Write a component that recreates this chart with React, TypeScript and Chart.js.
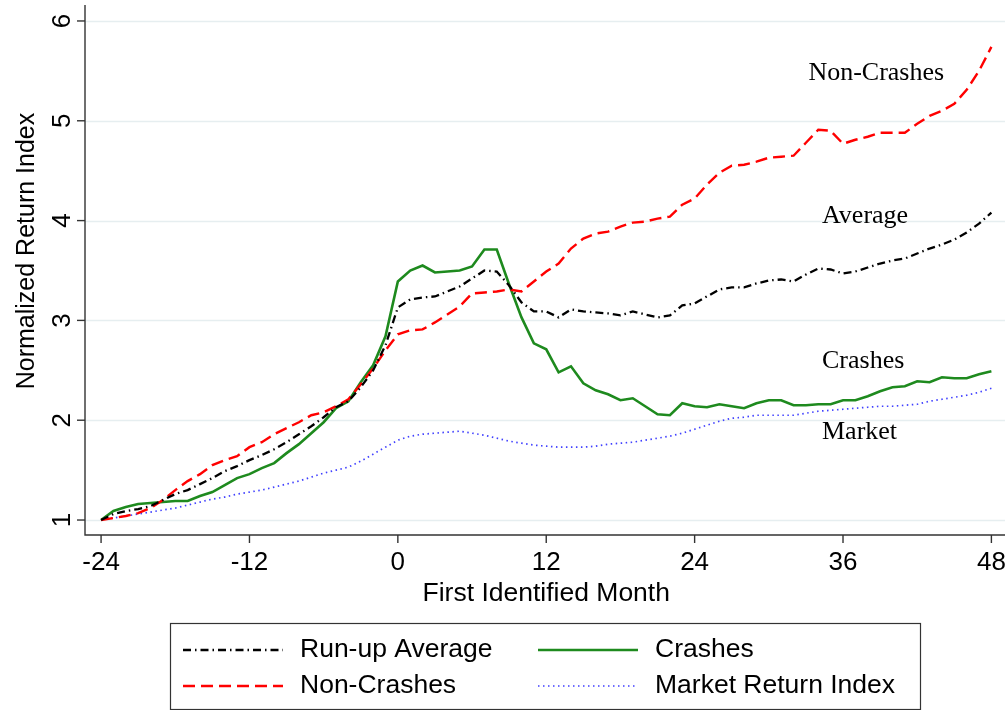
import React, { useEffect, useRef } from 'react';
import { Chart, registerables } from 'chart.js';

Chart.register(...registerables);

const months = [
  -24, -23, -22, -21, -20, -19, -18, -17, -16, -15, -14, -13, -12, -11, -10, -9, -8, -7, -6, -5, -4, -3, -2, -1,
  0, 1, 2, 3, 4, 5, 6, 7, 8, 9, 10, 11, 12, 13, 14, 15, 16, 17, 18, 19, 20, 21, 22, 23, 24,
  25, 26, 27, 28, 29, 30, 31, 32, 33, 34, 35, 36, 37, 38, 39, 40, 41, 42, 43, 44, 45, 46, 47, 48,
];

const runupAverage = [
  1.0, 1.06, 1.09, 1.11, 1.14, 1.2, 1.26, 1.3, 1.36, 1.42, 1.49, 1.54, 1.6, 1.65, 1.71, 1.78, 1.86, 1.94, 2.03, 2.13, 2.19, 2.33, 2.5, 2.75,
  3.13, 3.21, 3.23, 3.24, 3.29, 3.34, 3.42, 3.5, 3.49, 3.35, 3.18, 3.09, 3.09, 3.03, 3.11, 3.09, 3.08, 3.07, 3.05, 3.09, 3.06, 3.03, 3.05, 3.15, 3.17,
  3.24, 3.31, 3.33, 3.33, 3.37, 3.4, 3.41, 3.39, 3.46, 3.52, 3.51, 3.47, 3.49, 3.53, 3.57, 3.6, 3.62, 3.67, 3.72, 3.76, 3.81, 3.88, 3.97, 4.08,
];

const nonCrashes = [
  1.0, 1.02, 1.04, 1.07, 1.12, 1.2, 1.3, 1.39, 1.46, 1.55, 1.6, 1.64, 1.73, 1.78, 1.86, 1.92, 1.98, 2.05, 2.08, 2.14, 2.21, 2.36, 2.52, 2.7,
  2.86, 2.9, 2.91, 2.98, 3.06, 3.14, 3.27, 3.28, 3.29, 3.31, 3.29, 3.39, 3.49, 3.57, 3.72, 3.82, 3.87, 3.89, 3.94, 3.98, 3.99, 4.02, 4.04, 4.16, 4.22,
  4.36, 4.48, 4.55, 4.56, 4.59, 4.63, 4.64, 4.65, 4.78, 4.91, 4.9, 4.77, 4.81, 4.84, 4.88, 4.88, 4.88, 4.97, 5.05, 5.1, 5.17, 5.31, 5.5, 5.74,
];

const crashes = [
  1.0, 1.09, 1.13, 1.16, 1.17, 1.18, 1.19, 1.19, 1.24, 1.28, 1.35, 1.42, 1.46, 1.52, 1.57, 1.67, 1.76, 1.87, 1.98, 2.12, 2.19, 2.38, 2.55, 2.84,
  3.39, 3.5, 3.55, 3.48, 3.49, 3.5, 3.54, 3.71, 3.71, 3.36, 3.03, 2.77, 2.71, 2.48, 2.54, 2.37, 2.3, 2.26, 2.2, 2.22, 2.14, 2.06, 2.05, 2.17, 2.14,
  2.13, 2.16, 2.14, 2.12, 2.17, 2.2, 2.2, 2.15, 2.15, 2.16, 2.16, 2.2, 2.2, 2.24, 2.29, 2.33, 2.34, 2.39, 2.38, 2.43, 2.42, 2.42, 2.46, 2.49,
];

const marketIndex = [
  1.0, 1.02, 1.04, 1.06, 1.08, 1.1, 1.12, 1.15, 1.18, 1.21, 1.23, 1.26, 1.28, 1.3, 1.33, 1.36, 1.39, 1.43, 1.47, 1.5, 1.53, 1.59, 1.66, 1.73,
  1.8, 1.84, 1.86, 1.87, 1.88, 1.89, 1.87, 1.85, 1.82, 1.79, 1.77, 1.75, 1.74, 1.73, 1.73, 1.73, 1.74, 1.76, 1.77, 1.78, 1.8, 1.82, 1.84, 1.87, 1.91,
  1.95, 1.99, 2.02, 2.03, 2.05, 2.05, 2.05, 2.05, 2.07, 2.09, 2.1, 2.11, 2.12, 2.13, 2.14, 2.14, 2.15, 2.16, 2.19, 2.21, 2.23, 2.25, 2.28, 2.32,
];

const xTickValues = [-24, -12, 0, 12, 24, 36, 48];
const yTickValues = [1, 2, 3, 4, 5, 6];

const xTitle = 'First Identified Month';
const yTitle = 'Normalized Return Index';

const seriesNames = ['Run-up Average', 'Non-Crashes', 'Crashes', 'Market Return Index'];

const inlineLabels = [
  { text: 'Non-Crashes', x: 33.2, y: 5.48 },
  { text: 'Average', x: 34.3, y: 4.04 },
  { text: 'Crashes', x: 34.3, y: 2.59 },
  { text: 'Market', x: 34.3, y: 1.88 },
];

const SANS = '"Liberation Sans", Arial, Helvetica, sans-serif';
const SERIF = '"Liberation Serif", "Times New Roman", serif';

const styles = [
  { color: '#000000', width: 2.3, dash: [8, 4, 1.5, 4] },
  { color: '#ff0000', width: 2.4, dash: [12, 6] },
  { color: '#1e8a1e', width: 2.6, dash: [] as number[] },
  { color: '#4040ff', width: 1.7, dash: [1.5, 3.5] },
];

const seriesValues = [runupAverage, nonCrashes, crashes, marketIndex];

const decorPlugin = {
  id: 'decor',
  beforeDatasetsDraw(chart: any) {
    const { ctx, chartArea, scales } = chart;
    const ys = scales.y;
    ctx.save();
    ctx.strokeStyle = '#e6eef0';
    ctx.lineWidth = 1.6;
    yTickValues.forEach((v) => {
      const py = Math.round(ys.getPixelForValue(v)) + 0.5;
      ctx.beginPath();
      ctx.moveTo(chartArea.left, py);
      ctx.lineTo(chartArea.right, py);
      ctx.stroke();
    });
    ctx.restore();
  },
  afterDraw(chart: any) {
    const { ctx, chartArea, scales } = chart;
    const xs = scales.x;
    const ys = scales.y;
    ctx.save();
    ctx.strokeStyle = '#333333';
    ctx.lineWidth = 1.4;
    ctx.beginPath();
    ctx.moveTo(chartArea.left, chartArea.top);
    ctx.lineTo(chartArea.left, chartArea.bottom);
    ctx.lineTo(chartArea.right, chartArea.bottom);
    ctx.stroke();

    ctx.fillStyle = '#000000';
    ctx.font = `26px ${SANS}`;
    ctx.textAlign = 'center';
    ctx.textBaseline = 'middle';
    xTickValues.forEach((v) => {
      const px = xs.getPixelForValue(v);
      ctx.beginPath();
      ctx.moveTo(px, chartArea.bottom);
      ctx.lineTo(px, chartArea.bottom + 8);
      ctx.stroke();
      ctx.fillText(String(v), px, chartArea.bottom + 28);
    });

    yTickValues.forEach((v) => {
      const py = ys.getPixelForValue(v);
      ctx.beginPath();
      ctx.moveTo(chartArea.left - 8, py);
      ctx.lineTo(chartArea.left, py);
      ctx.stroke();
      ctx.save();
      ctx.translate(chartArea.left - 22, py);
      ctx.rotate(-Math.PI / 2);
      ctx.textAlign = 'center';
      ctx.textBaseline = 'middle';
      ctx.fillText(String(v), 0, 0);
      ctx.restore();
    });

    ctx.font = `26.5px ${SANS}`;
    ctx.textAlign = 'center';
    ctx.textBaseline = 'middle';
    ctx.fillText(xTitle, (xs.getPixelForValue(-24) + xs.getPixelForValue(48)) / 2, chartArea.bottom + 59);
    ctx.save();
    ctx.translate(27, 251);
    ctx.rotate(-Math.PI / 2);
    ctx.font = `25px ${SANS}`;
    ctx.fillText(yTitle, 0, 0);
    ctx.restore();

    ctx.font = `26px ${SERIF}`;
    ctx.textAlign = 'left';
    ctx.textBaseline = 'middle';
    inlineLabels.forEach((l) => {
      ctx.fillText(l.text, xs.getPixelForValue(l.x), ys.getPixelForValue(l.y));
    });

    const boxL = 170.5;
    const boxT = 623.5;
    const boxW = 750;
    const boxH = 86;
    ctx.strokeStyle = '#333333';
    ctx.lineWidth = 1.2;
    ctx.setLineDash([]);
    ctx.strokeRect(boxL, boxT, boxW, boxH);
    const cols = [183, 538];
    const rows = [650, 686];
    const order = [0, 2, 1, 3];
    ctx.font = `26.5px ${SANS}`;
    ctx.textAlign = 'left';
    ctx.textBaseline = 'middle';
    order.forEach((si, k) => {
      const cx = cols[k % 2];
      const cy = rows[Math.floor(k / 2)];
      const st = styles[si];
      ctx.save();
      ctx.strokeStyle = st.color;
      ctx.lineWidth = st.width;
      ctx.setLineDash(st.dash);
      ctx.beginPath();
      ctx.moveTo(cx, cy);
      ctx.lineTo(cx + 100, cy);
      ctx.stroke();
      ctx.restore();
      ctx.fillStyle = '#000000';
      ctx.fillText(seriesNames[si], cx + 117, cy);
    });
    ctx.restore();
  },
};

export default function App() {
  const ref = useRef<HTMLCanvasElement | null>(null);
  useEffect(() => {
    if (!ref.current) return;
    const chart = new Chart(ref.current, {
      type: 'line',
      data: {
        datasets: seriesValues.map((vals, i) => ({
          label: seriesNames[i],
          data: months.map((m, j) => ({ x: m, y: vals[j] })),
          borderColor: styles[i].color,
          borderWidth: styles[i].width,
          borderDash: styles[i].dash,
          pointRadius: 0,
          fill: false,
          tension: 0,
          order: i === 2 ? 3 : i === 3 ? 4 : i === 0 ? 1 : 2,
        })),
      },
      options: {
        animation: false,
        responsive: false,
        maintainAspectRatio: false,
        layout: { padding: { left: 85, top: 5, right: 3, bottom: 175 } },
        plugins: { legend: { display: false }, tooltip: { enabled: false } },
        scales: {
          x: { type: 'linear', min: -25.3, max: 49.1, display: false },
          y: { type: 'linear', min: 0.85, max: 6.16, display: false },
        },
      },
      plugins: [decorPlugin],
    });
    return () => chart.destroy();
  }, []);
  return (
    <div style={{ position: 'absolute', left: 0, top: 0, width: 1008, height: 710, background: '#ffffff' }}>
      <canvas ref={ref} width={1008} height={710} style={{ display: 'block' }} />
    </div>
  );
}
